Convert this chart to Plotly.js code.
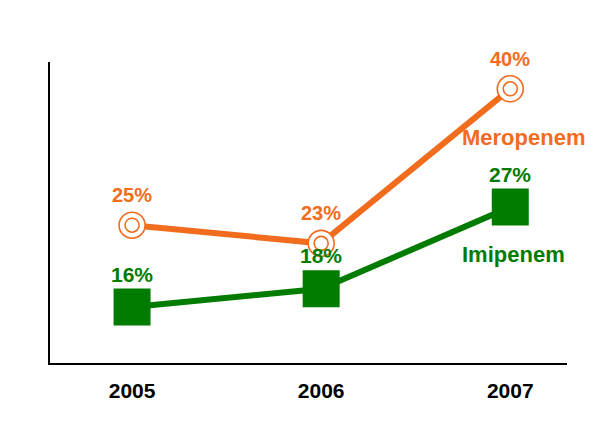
<!DOCTYPE html>
<html>
<head>
<meta charset="utf-8">
<script src="https://cdn.plot.ly/plotly-3.0.1.min.js"></script>
<style>
  html, body { margin: 0; padding: 0; background: #fff; }
  #chart { width: 614px; height: 436px; }
</style>
</head>
<body>
<div id="chart"></div>
<script>
let years = ['2005', '2006', '2007'];
let meropenem = [25, 23, 40];
let imipenem = [16, 18, 27];
let names = ['Meropenem', 'Imipenem'];

let orange = '#f26c1e';
let green = '#017c01';
let fam = 'Liberation Sans, Arial, sans-serif';

let traces = [
    {
        x: years, y: imipenem, mode: 'lines+markers', type: 'scatter',
        line: {color: green, width: 6},
        marker: {symbol: 'square', size: 37, color: green},
        hoverinfo: 'none'
    },
    {
        x: years, y: meropenem, mode: 'lines+markers', type: 'scatter',
        line: {color: orange, width: 6},
        marker: {symbol: 'circle', size: 26, color: '#fff', line: {color: orange, width: 1.6}},
        hoverinfo: 'none'
    },
    {
        // inner ring of the double circle
        x: years, y: meropenem, mode: 'markers', type: 'scatter',
        marker: {symbol: 'circle-open', size: 14, color: orange, line: {color: orange, width: 1.6}},
        hoverinfo: 'none'
    }
];

// category axis: annotations use the category index
let annotations = [];
for (let i = 0; i < years.length; i++) {
    annotations.push({
        x: i, y: meropenem[i], text: meropenem[i] + '%', showarrow: false,
        xanchor: 'center', yanchor: 'middle',
        yshift: 30, font: {family: fam, size: 20, color: orange, weight: 'bold'}
    });
    annotations.push({
        x: i, y: imipenem[i], text: imipenem[i] + '%', showarrow: false,
        xanchor: 'center', yanchor: 'middle',
        yshift: 33, font: {family: fam, size: 21, color: green, weight: 'bold'}
    });
}
annotations.push({
    xref: 'paper', yref: 'paper', x: 0.915, y: 0.748, text: names[0], showarrow: false,
    xanchor: 'center', yanchor: 'middle',
    font: {family: fam, size: 22, color: orange, weight: 'bold'}
});
annotations.push({
    xref: 'paper', yref: 'paper', x: 0.896, y: 0.359, text: names[1], showarrow: false,
    xanchor: 'center', yanchor: 'middle',
    font: {family: fam, size: 22, color: green, weight: 'bold'}
});

let layout = {
    width: 614,
    height: 436,
    margin: {l: 50, r: 47, t: 62, b: 73},
    paper_bgcolor: '#fff',
    plot_bgcolor: '#fff',
    showlegend: false,
    xaxis: {
        type: 'category',
        range: [-0.434, 2.30],
        showline: true, linecolor: '#000', linewidth: 2,
        showgrid: false, zeroline: false, ticks: '',
        ticklabelstandoff: 8,
        tickfont: {family: fam, size: 21, color: '#000', weight: 'bold'}
    },
    yaxis: {
        range: [9.84, 42.95],
        showline: true, linecolor: '#000', linewidth: 2,
        showgrid: false, zeroline: false, ticks: '', showticklabels: false
    },
    annotations: annotations
};

Plotly.newPlot('chart', traces, layout, {staticPlot: true});
</script>
</body>
</html>
